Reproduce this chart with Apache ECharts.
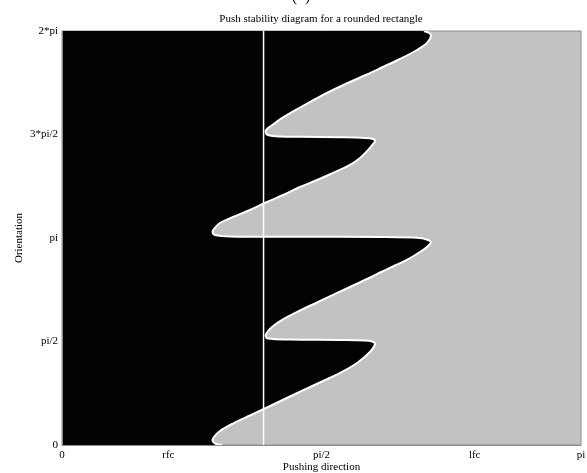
<!DOCTYPE html>
<html>
<head>
<meta charset="utf-8">
<title>Push stability diagram</title>
<script src="https://cdn.jsdelivr.net/npm/echarts@6/dist/echarts.min.js"></script>
<style>
  html, body { margin: 0; padding: 0; background: #ffffff; }
  #chart { width: 587px; height: 473px; }
</style>
</head>
<body>
<div id="chart"></div>
<script>
// Friction cone edges on the pushing-direction axis (radians)
const rfc = 0.644;
const lfc = 2.498;

// Tick positions and their labels
const xTickValues = [0, rfc, Math.PI / 2, lfc, Math.PI];
const xTickLabels = ['0', 'rfc', 'pi/2', 'lfc', 'pi'];
const yTickValues = [0, Math.PI / 2, Math.PI, 3 * Math.PI / 2, 2 * Math.PI];
const yTickLabels = ['0', 'pi/2', 'pi', '3*pi/2', '2*pi'];

// Stable / unstable boundary: pushing direction (x) for each orientation (y),
// traced from orientation 2*pi down to 0
const boundaryDirection = [
  2.191, 2.222, 2.234, 2.209, 2.149, 2.046, 1.943, 1.846, 1.743, 1.640,
  1.544, 1.441, 1.338, 1.277, 1.241, 1.232, 1.247, 1.320, 1.441, 1.683,
  1.834, 1.883, 1.895, 1.880, 1.864, 1.804, 1.743, 1.640, 1.544, 1.441,
  1.338, 1.241, 1.138, 1.035, 0.956, 0.920, 0.911, 0.926, 1.017, 1.441,
  1.925, 2.167, 2.216, 2.234, 2.216, 2.185, 2.107, 2.016, 1.925, 1.846,
  1.743, 1.640, 1.544, 1.441, 1.338, 1.271, 1.241, 1.233, 1.247, 1.380,
  1.683, 1.834, 1.877, 1.895, 1.864, 1.786, 1.683, 1.580, 1.483, 1.380,
  1.241, 1.138, 1.035, 0.956, 0.920, 0.912, 0.932, 0.969
];
const boundaryOrientation = [
  6.283, 6.253, 6.207, 6.101, 5.995, 5.858, 5.737, 5.623, 5.509, 5.388,
  5.266, 5.122, 4.971, 4.864, 4.796, 4.750, 4.705, 4.682, 4.677, 4.670,
  4.660, 4.645, 4.614, 4.560, 4.508, 4.356, 4.250, 4.128, 4.022, 3.916,
  3.794, 3.688, 3.567, 3.460, 3.369, 3.278, 3.233, 3.187, 3.164, 3.160,
  3.157, 3.142, 3.111, 3.081, 3.020, 2.960, 2.838, 2.724, 2.618, 2.519,
  2.398, 2.277, 2.163, 2.041, 1.905, 1.791, 1.707, 1.654, 1.616, 1.601,
  1.594, 1.586, 1.571, 1.533, 1.412, 1.245, 1.093, 0.971, 0.858, 0.736,
  0.569, 0.448, 0.326, 0.212, 0.121, 0.061, 0.015, 0.000
];

// Pushing direction of the vertical reference line
const markerDirection = 1.22;

const boundary = boundaryDirection.map((d, i) => [d, boundaryOrientation[i]]);
const curveSmooth = 0.35;

function labelFor(values, labels) {
  return function (v) {
    for (let k = 0; k < values.length; k++) {
      if (Math.abs(v - values[k]) < 1e-6) return labels[k];
    }
    return '';
  };
}

const serif = '"Liberation Serif", "DejaVu Serif", serif';
const chart = echarts.init(document.getElementById('chart'), null, { renderer: 'canvas' });

chart.setOption({
  animation: false,
  backgroundColor: '#ffffff',
  textStyle: { fontFamily: serif },
  grid: {
    left: 62, right: 6, top: 31, bottom: 28,
    outerBoundsMode: 'none',
    containLabel: false,
    show: true,
    backgroundColor: '#c2c2c2',
    borderColor: '#8c8c8c',
    borderWidth: 1
  },
  graphic: [
    {
      type: 'text', x: 301, y: 5,
      style: {
        text: '(  )', fill: '#000', font: '16px ' + serif,
        textAlign: 'center', textVerticalAlign: 'bottom'
      }
    },
    {
      type: 'text', x: 321, y: 19,
      style: {
        text: 'Push stability diagram for a rounded rectangle',
        fill: '#000', font: '11px ' + serif,
        textAlign: 'center', textVerticalAlign: 'middle'
      }
    }
  ],
  xAxis: {
    type: 'value', min: 0, max: Math.PI, z: 5,
    name: 'Pushing direction', nameLocation: 'middle', nameGap: 17,
    nameMoveOverlap: false,
    nameTextStyle: { fontFamily: serif, fontSize: 11, color: '#000' },
    axisLine: { show: true, lineStyle: { color: '#8c8c8c', width: 1 } },
    axisTick: { show: false },
    splitLine: { show: false },
    axisLabel: {
      customValues: xTickValues,
      formatter: labelFor(xTickValues, xTickLabels),
      fontFamily: serif, fontSize: 11, color: '#000', margin: 5,
      showMinLabel: true, showMaxLabel: true, hideOverlap: false
    }
  },
  yAxis: {
    type: 'value', min: 0, max: 2 * Math.PI, z: 5,
    name: 'Orientation', nameLocation: 'middle', nameGap: 37,
    nameMoveOverlap: false,
    nameTextStyle: { fontFamily: serif, fontSize: 11, color: '#000' },
    axisLine: { show: true, lineStyle: { color: '#8c8c8c', width: 1 } },
    axisTick: { show: false },
    splitLine: { show: false },
    axisLabel: {
      customValues: yTickValues,
      formatter: labelFor(yTickValues, yTickLabels),
      fontFamily: serif, fontSize: 11, color: '#000', margin: 4,
      showMinLabel: true, showMaxLabel: true, hideOverlap: false
    }
  },
  series: [
    {
      // Region left of the boundary filled black, with a white contour on the boundary
      type: 'custom',
      silent: true,
      clip: true,
      z: 2,
      data: boundary,
      renderItem: function (params, api) {
        if (params.dataIndex !== 0) return null;
        const curve = boundary.map(p => api.coord(p));
        // closing corners lie left of the axis so the smoothed edge stays outside the plot
        const topLeft = api.coord([-3, 2 * Math.PI]);
        const bottomLeft = api.coord([-3, 0]);
        const fillPts = [topLeft].concat(curve, [bottomLeft]);
        return {
          type: 'group',
          children: [
            {
              type: 'polygon',
              shape: { points: fillPts, smooth: curveSmooth },
              style: { fill: '#030303' }
            },
            {
              type: 'polyline',
              shape: { points: curve, smooth: curveSmooth },
              style: { stroke: '#ffffff', lineWidth: 2, fill: null }
            }
          ]
        };
      }
    },
    {
      // Vertical reference line
      type: 'line',
      silent: true,
      z: 4,
      data: [[markerDirection, 0], [markerDirection, 2 * Math.PI]],
      showSymbol: false,
      lineStyle: { color: '#ffffff', width: 1.5 }
    }
  ]
});
</script>
</body>
</html>
